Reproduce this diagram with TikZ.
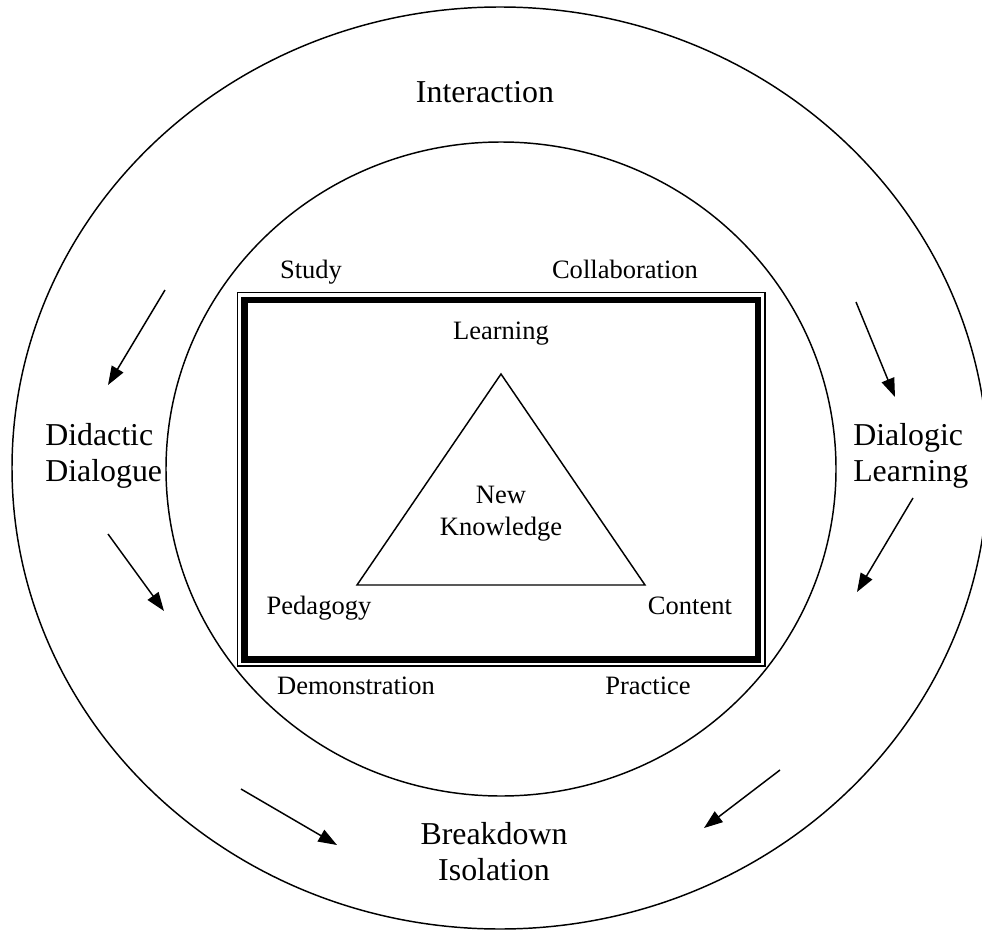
\documentclass[tikz,border=0pt]{standalone}
\usepackage{fontspec}
\setmainfont{Liberation Serif}
\usetikzlibrary{arrows.meta}
\tikzset{
  big/.style={font=\fontsize{23.9}{27}\selectfont, inner sep=0pt},
  small/.style={font=\fontsize{19.9}{24}\selectfont, inner sep=0pt},
  ring/.style={line width=1.1pt},
  flow/.style={line width=1.1pt, -{Triangle[length=14pt,width=10pt]}},
}
\begin{document}
\begin{tikzpicture}[x=0.75pt,y=-0.75pt]
\useasboundingbox (0,0) rectangle (982,931);
% circles
\draw[ring] (500,468) ellipse [x radius=366pt, y radius=345.75pt];
\draw[ring] (501,469) ellipse [x radius=251.25pt, y radius=245.25pt];
% double frame
\draw[line width=0.8pt] (237.5,292.5) rectangle (765,666);
\draw[line width=5pt] (244.3,300) rectangle (758,659.5);
% triangle
\coordinate (apex) at (501,374);
\coordinate (bl) at (357,585);
\coordinate (br) at (645,585);
\draw[line width=1.1pt, line join=miter] (apex) -- (bl) -- (br) -- cycle;
% labels
\node[big, anchor=base] (interaction) at (485,103) {Interaction};
\node[small, anchor=base] (study) at (311,278.5) {Study};
\node[small, anchor=base] (collab) at (625,278.5) {Collaboration};
\node[small, anchor=base] (learning) at (501,339) {Learning};
\node[small, anchor=base, align=center] (newk) at (501,535.5) {New\\Knowledge};
\node[small, anchor=base] (pedagogy) at (319,614) {Pedagogy};
\node[small, anchor=base] (content) at (690,614) {Content};
\node[small, anchor=base] (demo) at (356,694.5) {Demonstration};
\node[small, anchor=base] (practice) at (648,694.5) {Practice};
\node[big, anchor=base west, align=left] (didactic) at (45,481) {Didactic\\Dialogue};
\node[big, anchor=base west, align=left] (dialogic) at (853,481) {Dialogic\\Learning};
\node[big, anchor=base, align=center] (breakdown) at (494,880) {Breakdown\\Isolation};
% arrows
\coordinate (a1s) at (165,290); \coordinate (a1e) at (108,385);
\coordinate (a2s) at (108,534); \coordinate (a2e) at (164,611);
\coordinate (a3s) at (241,789); \coordinate (a3e) at (337,845);
\coordinate (a4s) at (780,770); \coordinate (a4e) at (704,828);
\coordinate (a5s) at (913,498); \coordinate (a5e) at (857,592);
\coordinate (a6s) at (856,302); \coordinate (a6e) at (895,397);
\draw[flow] (a1s) -- (a1e);
\draw[flow] (a2s) -- (a2e);
\draw[flow] (a3s) -- (a3e);
\draw[flow] (a4s) -- (a4e);
\draw[flow] (a5s) -- (a5e);
\draw[flow] (a6s) -- (a6e);
\end{tikzpicture}
\end{document}
